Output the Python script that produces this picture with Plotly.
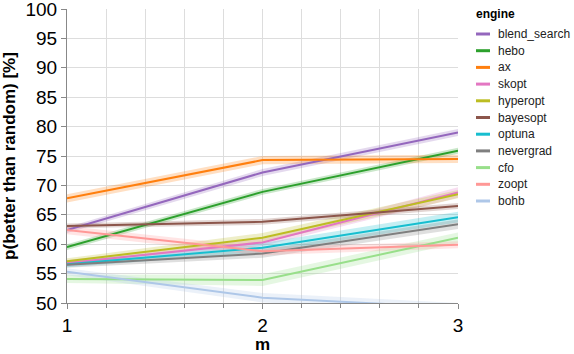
import plotly.graph_objects as go

# dados
m = [1, 2, 3]
engines = ["blend_search", "hebo", "ax", "skopt", "hyperopt", "bayesopt",
           "optuna", "nevergrad", "cfo", "zoopt", "bohb"]
cores = ["#9467bd", "#2ca02c", "#ff7f0e", "#e377c2", "#bcbd22", "#8c564b",
         "#17becf", "#7f7f7f", "#98df8a", "#ff9896", "#aec7e8"]

blend_search = [62.4, 72.2, 79.0]
hebo = [59.5, 68.9, 75.9]
ax = [67.8, 74.3, 74.5]
skopt = [56.8, 60.3, 68.8]
hyperopt = [57.1, 61.1, 68.5]
bayesopt = [63.1, 63.8, 66.5]
optuna = [56.6, 59.4, 64.6]
nevergrad = [56.5, 58.4, 63.4]
cfo = [54.1, 53.9, 61.1]
zoopt = [62.4, 58.8, 59.9]
bohb = [55.3, 50.9, 49.2]

# meia largura da faixa sombreada
erro_blend_search = [0.5, 0.6, 0.6]
erro_hebo = [0.5, 0.5, 0.5]
erro_ax = [0.7, 0.7, 0.7]
erro_skopt = [0.5, 0.6, 0.9]
erro_hyperopt = [0.5, 0.8, 0.7]
erro_bayesopt = [0.4, 0.5, 0.5]
erro_optuna = [0.5, 0.8, 0.9]
erro_nevergrad = [0.5, 0.7, 0.8]
erro_cfo = [0.7, 1.0, 0.9]
erro_zoopt = [0.7, 0.7, 0.6]
erro_bohb = [0.6, 0.8, 0.8]

valores = [blend_search, hebo, ax, skopt, hyperopt, bayesopt,
           optuna, nevergrad, cfo, zoopt, bohb]
erros = [erro_blend_search, erro_hebo, erro_ax, erro_skopt, erro_hyperopt,
         erro_bayesopt, erro_optuna, erro_nevergrad, erro_cfo, erro_zoopt,
         erro_bohb]

W, H = 574, 354
ML, MR, MT, MB = 67, 116, 9, 51
PW, PH = W - ML - MR, H - MT - MB


def rgba(hexcor, a):
    h = hexcor.lstrip("#")
    r, g, b = int(h[0:2], 16), int(h[2:4], 16), int(h[4:6], 16)
    return f"rgba({r},{g},{b},{a})"


def px_x(p):
    return (p - ML) / PW


def px_y(p):
    return (H - MB - p) / PH


fig = go.Figure()

# faixas primeiro, para ficarem por baixo das linhas
for nome, cor, ys, es in zip(engines, cores, valores, erros):
    sup = [y + e for y, e in zip(ys, es)]
    inf = [y - e for y, e in zip(ys, es)]
    fig.add_trace(go.Scatter(
        x=m + m[::-1], y=sup + inf[::-1], mode="lines", fill="toself",
        fillcolor=rgba(cor, 0.25), line=dict(width=0),
        hoverinfo="skip", showlegend=False))

for nome, cor, ys in zip(engines, cores, valores):
    fig.add_trace(go.Scatter(
        x=m, y=ys, mode="lines", name=nome, showlegend=False,
        line=dict(color=cor, width=2)))

# legenda desenhada à mão (espaçamento mais compacto que o do plotly)
fig.add_annotation(
    x=px_x(474), y=px_y(14), xref="paper", yref="paper",
    xanchor="left", yanchor="middle", showarrow=False,
    text="<b>engine</b>", font=dict(size=12, color="black"))
for i, (nome, cor) in enumerate(zip(engines, cores)):
    yy = 34 + i * 16.7
    fig.add_shape(
        type="line", xref="paper", yref="paper",
        x0=px_x(476), x1=px_x(490), y0=px_y(yy), y1=px_y(yy),
        line=dict(color=cor, width=3))
    fig.add_annotation(
        x=px_x(496), y=px_y(yy), xref="paper", yref="paper",
        xanchor="left", yanchor="middle", showarrow=False,
        text=nome, font=dict(size=12, color="#222"))

fig.update_layout(
    width=W, height=H,
    margin=dict(l=ML, r=MR, t=MT, b=MB),
    plot_bgcolor="white", paper_bgcolor="white",
    font=dict(family="Liberation Sans, Arial, sans-serif", color="black"),
    showlegend=False,
)

fig.update_xaxes(
    range=[1, 3], tickvals=[1, 2, 3], automargin=False,
    ticklabeloverflow="allow",
    tickfont=dict(size=19), ticks="outside", ticklen=5, tickcolor="#888",
    showgrid=True, gridcolor="#ddd",
    minor=dict(dtick=0.2, showgrid=True, gridcolor="#ddd",
               ticks="outside", ticklen=4, tickcolor="#888"),
    showline=True, linecolor="#888", zeroline=False,
    title=dict(text="<b>m</b>", font=dict(size=17), standoff=2),
)
fig.update_yaxes(
    range=[50, 100], tickvals=[50, 55, 60, 65, 70, 75, 80, 85, 90, 95, 100],
    automargin=False, ticklabeloverflow="allow",
    tickfont=dict(size=19), ticks="outside", ticklen=5, tickcolor="#888",
    showgrid=True, gridcolor="#ddd",
    showline=True, linecolor="#888", zeroline=False,
    title=dict(text="<b>p(better than random) [%]</b>", font=dict(size=17),
               standoff=8),
)

# tira a margem padrão do <body> para o gráfico ficar no canto da janela
fig.write_html("out.html", config={"displayModeBar": False},
               post_script="document.body.style.margin='0';")
